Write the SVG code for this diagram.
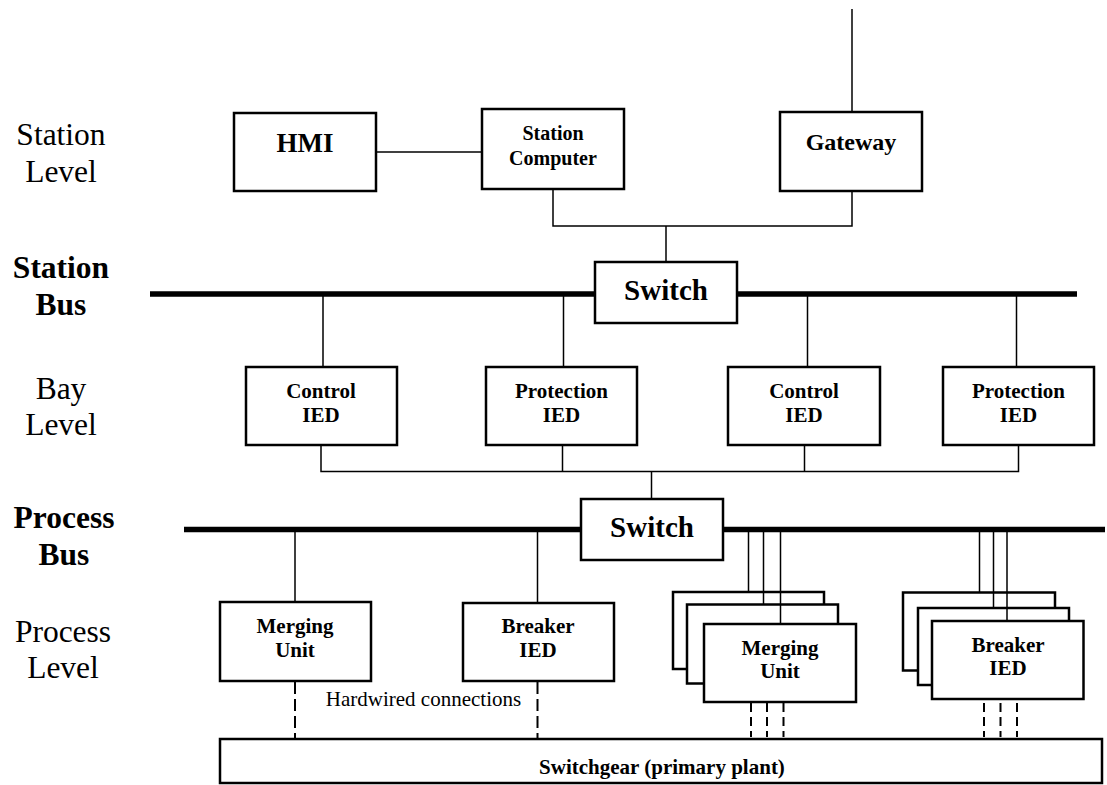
<svg xmlns="http://www.w3.org/2000/svg" width="1107" height="785" viewBox="0 0 1107 785">
  <style>
    text { font-family: "Liberation Serif", "Times New Roman", serif; fill: #000; text-anchor: middle; }
    .lvl { font-size: 31.5px; }
    .bus-lbl { font-size: 31.5px; font-weight: bold; }
    .box { fill: #fff; stroke: #000; stroke-width: 2.5; }
    .lbl { font-size: 21px; font-weight: bold; }
    .sw { font-size: 29px; font-weight: bold; }
    .wire { stroke: #000; stroke-width: 1.5; fill: none; }
    .bus { stroke: #000; stroke-width: 5.5; fill: none; }
    .hw { stroke: #000; stroke-width: 2; fill: none; stroke-dasharray: 12 5; }
    .hw3 { stroke: #000; stroke-width: 2; fill: none; stroke-dasharray: 9 5; }
  </style>

  <rect width="1107" height="785" fill="#fff"/>

  <!-- level and bus labels -->
  <g id="labels">
    <text class="lvl" x="61" y="145">Station</text>
    <text class="lvl" x="61" y="182">Level</text>
    <text class="bus-lbl" x="61" y="278">Station</text>
    <text class="bus-lbl" x="61" y="315">Bus</text>
    <text class="lvl" x="61" y="399">Bay</text>
    <text class="lvl" x="61" y="435">Level</text>
    <text class="bus-lbl" x="64" y="528">Process</text>
    <text class="bus-lbl" x="64" y="565">Bus</text>
    <text class="lvl" x="63" y="642">Process</text>
    <text class="lvl" x="63" y="678">Level</text>
  </g>

  <!-- station level -->
  <g id="hmi">
    <rect class="box" x="234" y="113" width="142" height="78"/>
    <text x="305" y="152" style="font-size:27px;font-weight:bold">HMI</text>
  </g>
  <g id="station-computer">
    <rect class="box" x="482" y="109" width="142" height="80"/>
    <text class="lbl" x="553" y="140" style="font-size:20px">Station</text>
    <text class="lbl" x="553" y="165" style="font-size:20px">Computer</text>
  </g>
  <g id="gateway">
    <rect class="box" x="780" y="112" width="142" height="79"/>
    <text x="851" y="150" style="font-size:24px;font-weight:bold">Gateway</text>
  </g>
  <g id="station-switch">
    <rect class="box" x="595" y="262" width="142" height="61"/>
    <text class="sw" x="666" y="300">Switch</text>
  </g>

  <!-- bay level -->
  <g id="control-ied-1">
    <rect class="box" x="246" y="367" width="151" height="78"/>
    <text class="lbl" x="321" y="398">Control</text>
    <text class="lbl" x="321" y="422">IED</text>
  </g>
  <g id="protection-ied-1">
    <rect class="box" x="486" y="367" width="151" height="78"/>
    <text class="lbl" x="561.5" y="398">Protection</text>
    <text class="lbl" x="561.5" y="422">IED</text>
  </g>
  <g id="control-ied-2">
    <rect class="box" x="728" y="367" width="152" height="78"/>
    <text class="lbl" x="804" y="398">Control</text>
    <text class="lbl" x="804" y="422">IED</text>
  </g>
  <g id="protection-ied-2">
    <rect class="box" x="943" y="367" width="151" height="78"/>
    <text class="lbl" x="1018.5" y="398">Protection</text>
    <text class="lbl" x="1018.5" y="422">IED</text>
  </g>
  <g id="process-switch">
    <rect class="box" x="581" y="499" width="142" height="61"/>
    <text class="sw" x="652" y="537">Switch</text>
  </g>

  <!-- process level -->
  <g id="merging-unit">
    <rect class="box" x="220" y="602" width="151" height="79"/>
    <text class="lbl" x="295" y="633">Merging</text>
    <text class="lbl" x="295" y="657">Unit</text>
  </g>
  <g id="breaker-ied">
    <rect class="box" x="463" y="603" width="151" height="78"/>
    <text class="lbl" x="538" y="633">Breaker</text>
    <text class="lbl" x="538" y="657">IED</text>
  </g>
  <g id="merging-unit-stack">
    <rect class="box" x="673" y="592" width="151" height="77"/>
    <rect class="box" x="687" y="604.5" width="151" height="79"/>
    <rect class="box" x="704" y="624" width="152" height="78"/>
    <text class="lbl" x="780" y="655">Merging</text>
    <text class="lbl" x="780" y="678">Unit</text>
  </g>
  <g id="breaker-ied-stack">
    <rect class="box" x="903" y="592.5" width="152" height="78"/>
    <rect class="box" x="918" y="608" width="151" height="77"/>
    <rect class="box" x="932" y="621" width="151.5" height="78"/>
    <text class="lbl" x="1008" y="652">Breaker</text>
    <text class="lbl" x="1008" y="675">IED</text>
  </g>
  <g id="switchgear">
    <rect class="box" x="220" y="739" width="882" height="44"/>
    <text class="lbl" x="662" y="774">Switchgear (primary plant)</text>
  </g>

  <!-- buses and links -->
  <g id="connectors">
    <!-- station bus, split around its switch -->
    <path class="bus" d="M150 294 H595 M737 294 H1077"/>
    <!-- process bus, split around its switch -->
    <path class="bus" d="M184 529.5 H581 M723 529.5 H1105"/>

    <!-- station level links -->
    <path class="wire" d="M852 9 V112"/>
    <path class="wire" d="M376 152 H482"/>
    <path class="wire" d="M553 189 V226 H852 V191"/>
    <path class="wire" d="M666 226 V262"/>

    <!-- station bus drops -->
    <path class="wire" d="M323 296 V367 M563.5 296 V367 M807.5 296 V367 M1016.5 296 V367"/>

    <!-- bay level links to the process switch -->
    <path class="wire" d="M321 445 V471.5 H1018.5 V445 M562.5 445 V471.5 M804.5 445 V471.5"/>
    <path class="wire" d="M651.5 471.5 V499"/>

    <!-- process bus drops -->
    <path class="wire" d="M295 531 V602 M537.5 531 V603"/>
    <path class="wire" d="M748.5 531 V592 M763.5 531 V604.5 M780.5 531 V624"/>
    <path class="wire" d="M979.5 531 V592.5 M993.5 531 V608 M1007 531 V621"/>

    <!-- hardwired connections to the switchgear -->
    <path class="hw" d="M295 682 V739 M537.5 682 V739"/>
    <path class="hw3" d="M751 703 V737 M767 703 V737 M783.5 703 V737"/>
    <path class="hw3" d="M984 703 V737 M1000.5 703 V737 M1017 703 V737"/>
    <text x="423.5" y="706" style="font-size:21px">Hardwired connections</text>
  </g>
</svg>
